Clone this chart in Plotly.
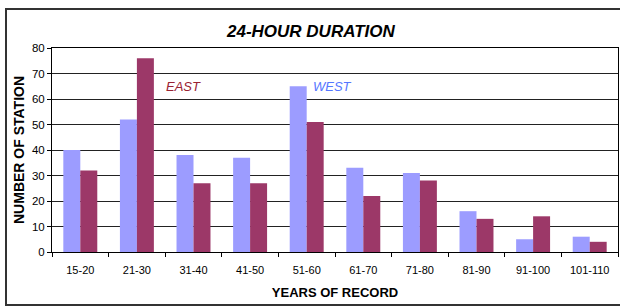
import plotly.graph_objects as go

categories = ["15-20", "21-30", "31-40", "41-50", "51-60", "61-70", "71-80", "81-90", "91-100", "101-110"]
west = [40, 52, 38, 37, 65, 33, 31, 16, 5, 6]
east = [32, 76, 27, 27, 51, 22, 28, 13, 14, 4]
y_ticks = [0, 10, 20, 30, 40, 50, 60, 70, 80]

FONT = "Liberation Sans, Arial, sans-serif"
W, H = 620, 307
ML, MR, MT, MB = 52, 2, 48, 55
PW, PH = W - ML - MR, H - MT - MB

def px_x(x):
    return (x - ML) / PW

def px_y(y):
    return (H - MB - y) / PH

fig = go.Figure()
fig.add_trace(go.Bar(x=categories, y=west, name="WEST", marker=dict(color="#9C9CFF", line=dict(width=0))))
fig.add_trace(go.Bar(x=categories, y=east, name="EAST", marker=dict(color="#9C3868", line=dict(width=0))))

fig.update_layout(
    width=W, height=H,
    margin=dict(l=ML, r=MR, t=MT, b=MB),
    paper_bgcolor="white", plot_bgcolor="white",
    barmode="group", bargap=0.4, bargroupgap=0,
    showlegend=False,
    font=dict(family=FONT, size=11, color="black"),
    xaxis=dict(
        type="category", tickson="boundaries", ticks="outside", ticklen=4,
        tickcolor="black", showline=True, linecolor="black", linewidth=1,
        showgrid=False, tickfont=dict(size=11, family=FONT), mirror=True,
        ticklabelstandoff=8,
        range=[-0.5, len(categories) - 0.5],
        title=dict(text="<b>YEARS OF RECORD</b>", font=dict(size=13, family=FONT), standoff=12),
    ),
    yaxis=dict(
        range=[0, 80], tickvals=y_ticks, ticks="outside", ticklen=4, tickcolor="black",
        showline=True, linecolor="black", linewidth=1, mirror=True,
        showgrid=True, gridcolor="#222222", gridwidth=1, zeroline=False,
        tickfont=dict(size=11.5, family=FONT),
        title=dict(text="<b>NUMBER OF STATION</b>", font=dict(size=14, family=FONT), standoff=4),
    ),
)

fig.add_annotation(text="<b><i>24-HOUR DURATION</i></b>", xref="paper", yref="paper",
                   x=px_x(311), y=px_y(31), xanchor="center", yanchor="middle",
                   showarrow=False, font=dict(size=17, family=FONT, color="black"))
fig.add_annotation(text="<i>EAST</i>", xref="x", yref="y", x=1.83, y=65, showarrow=False,
                   font=dict(size=13, family=FONT, color="#992233"))
fig.add_annotation(text="<i>WEST</i>", xref="x", yref="y", x=4.45, y=65, showarrow=False,
                   font=dict(size=13, family=FONT, color="#5577FF"))

fig.add_shape(type="rect", xref="paper", yref="paper",
              x0=px_x(6), x1=px_x(630), y0=px_y(305), y1=px_y(9),
              line=dict(color="#333333", width=2), layer="below")

fig.write_html("out.html", config={"displayModeBar": False},
               post_script="document.body.style.margin='0';document.body.style.overflow='hidden';")
